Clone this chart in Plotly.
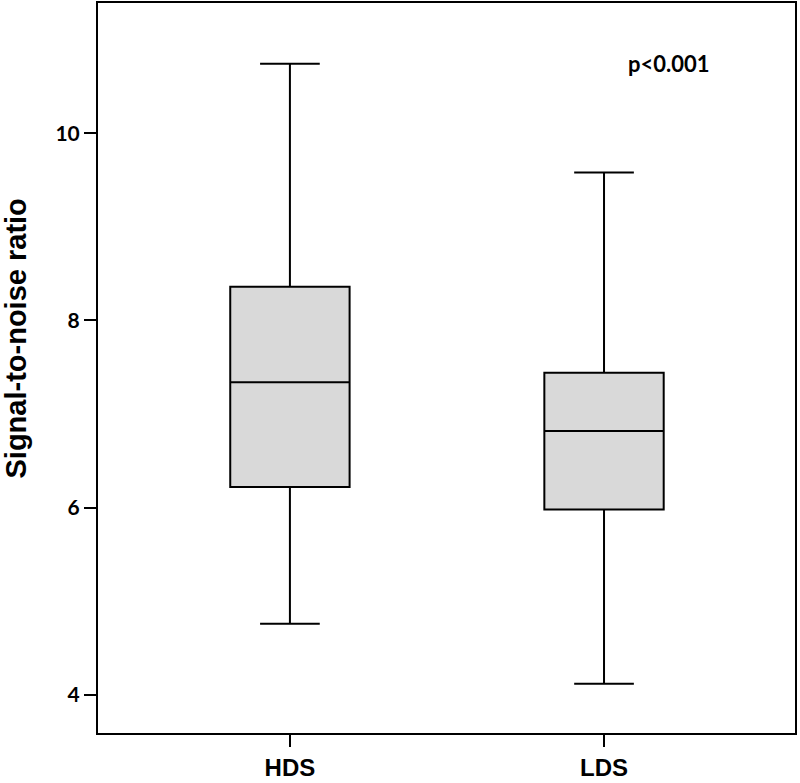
import plotly.graph_objects as go

categories = ["HDS", "LDS"]
positions = [0, 1]
lower_whisker = [4.76, 4.12]
q1_vals = [6.22, 5.98]
medians = [7.34, 6.82]
q3_vals = [8.36, 7.44]
upper_whisker = [10.74, 9.58]
y_ticks = [4, 6, 8, 10]
p_text = "p<0.001"

fig = go.Figure()
fig.add_trace(go.Box(
    x=positions,
    q1=q1_vals,
    median=medians,
    q3=q3_vals,
    lowerfence=lower_whisker,
    upperfence=upper_whisker,
    width=0.38,
    whiskerwidth=0.5,
    fillcolor="#d9d9d9",
    line=dict(color="black", width=2),
    boxpoints=False,
    showlegend=False,
    hoverinfo="y",
))

fig.update_layout(
    width=800, height=783,
    margin=dict(l=98, r=5, t=3, b=50),
    plot_bgcolor="white",
    paper_bgcolor="white",
    xaxis=dict(
        range=[-0.611, 1.608],
        tickvals=positions,
        ticktext=categories,
        ticks="outside", ticklen=12, tickwidth=2, tickcolor="black",
        showline=True, linecolor="black", linewidth=2, mirror=True,
        showgrid=False, zeroline=False, automargin=False,
        tickfont=dict(family="Liberation Sans, Arial", size=24, color="black", weight="bold"),
    ),
    yaxis=dict(
        range=[3.594, 11.39],
        tickvals=y_ticks,
        ticktext=[str(v) for v in y_ticks],
        ticks="outside", ticklen=12, tickwidth=2, tickcolor="black",
        showline=True, linecolor="black", linewidth=2, mirror=True,
        showgrid=False, zeroline=False, automargin=False,
        tickfont=dict(family="Lato", size=21, color="black", weight="bold"),
    ),
    annotations=[
        dict(text="Signal-to-noise ratio", textangle=-90,
             xref="paper", yref="paper", x=-0.117, y=0.541,
             xanchor="center", yanchor="middle", showarrow=False,
             font=dict(family="Liberation Sans, Arial", size=29, color="black", weight="bold")),
        dict(text=p_text,
             xref="paper", yref="paper", x=(669 - 98) / 697, y=0.9165,
             xanchor="center", yanchor="middle", showarrow=False,
             font=dict(family="Lato", size=22, color="black", weight="bold")),
    ],
)

fig.write_html("out.html",
               config={"displayModeBar": False},
               post_script="document.body.style.margin='0';document.body.style.overflow='hidden';")
